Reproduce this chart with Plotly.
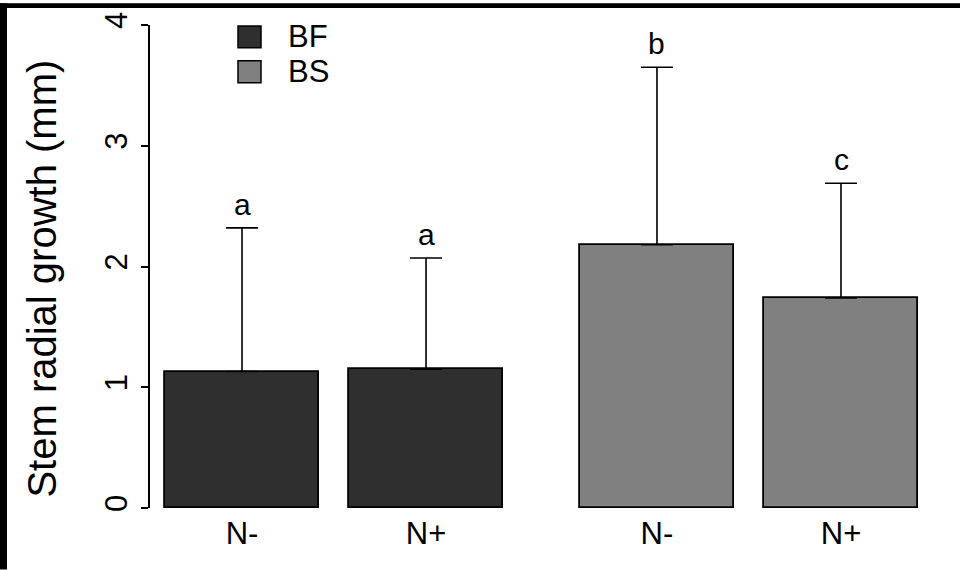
import plotly.graph_objects as go

# ---- data ----
categories = ["N-", "N+"]
series_names = ["BF", "BS"]
bf_means = [1.13, 1.15]
bs_means = [2.18, 1.74]
bf_err = [1.19, 0.92]
bs_err = [1.47, 0.95]
bf_letters = ["a", "a"]
bs_letters = ["b", "c"]
y_ticks = [0, 1, 2, 3, 4]

# ---- style ----
colors = {"BF": "#2f2f2f", "BS": "#808080"}
FONT = "Liberation Sans, Arial, sans-serif"
W, H = 960, 570
L, R, T, B = 150, 20, 22, 62
PW, PH = W - L - R, H - T - B
group_step = 2.255
bar_width = 0.837


def px(x):
    return (x - L) / PW


def py(y):
    return (H - B - y) / PH


series = [
    ("BF", bf_means, bf_err, bf_letters),
    ("BS", bs_means, bs_err, bs_letters),
]

fig = go.Figure()
annotations = []
all_pos = []
all_text = []
for g, (name, means, errs, letters) in enumerate(series):
    pos = [g * group_step + i for i in range(len(categories))]
    all_pos += pos
    all_text += categories
    fig.add_trace(go.Bar(
        x=pos, y=means, width=bar_width, name=name,
        marker=dict(color=colors[name], line=dict(color="black", width=1.8)),
        error_y=dict(type="data", symmetric=False, array=errs,
                     arrayminus=[0] * len(errs), color="black",
                     thickness=1.6, width=16),
        showlegend=False,
    ))
    for x, m, e, lt in zip(pos, means, errs, letters):
        annotations.append(dict(x=x, y=m + e, xref="x", yref="y", text=lt,
                                showarrow=False, yanchor="bottom", yshift=5,
                                font=dict(family=FONT, size=30, color="black")))

# manual legend (large squares like the original)
shapes = []
for i, name in enumerate(series_names):
    yc = 34 + 35 * i
    shapes.append(dict(type="rect", xref="paper", yref="paper",
                       x0=px(238), x1=px(261), y0=py(yc + 11), y1=py(yc - 11),
                       fillcolor=colors[name], line=dict(color="black", width=1.5)))
    annotations.append(dict(x=px(286), y=py(yc), xref="paper", yref="paper",
                            text=name, showarrow=False, xanchor="left", yanchor="middle",
                            font=dict(family=FONT, size=31, color="black")))

# y-axis title
annotations.append(dict(x=px(42), y=0.475, xref="paper", yref="paper",
                        text="Stem radial growth (mm)", textangle=-90, showarrow=False,
                        xanchor="center", yanchor="middle",
                        font=dict(family=FONT, size=40, color="black")))

# black frame strips (top and left) like the original image
shapes.append(dict(type="rect", xref="paper", yref="paper", x0=px(0), x1=px(W),
                   y0=py(5), y1=py(0), fillcolor="black", line=dict(width=0), layer="above"))
shapes.append(dict(type="rect", xref="paper", yref="paper", x0=px(0), x1=px(7),
                   y0=py(H), y1=py(0), fillcolor="black", line=dict(width=0), layer="above"))

fig.update_layout(
    width=W, height=H,
    margin=dict(l=L, r=R, t=T, b=B, pad=0),
    paper_bgcolor="white", plot_bgcolor="white",
    showlegend=False,
    annotations=annotations,
    shapes=shapes,
    xaxis=dict(range=[-0.5, 3.793], tickvals=all_pos, ticktext=all_text,
               showgrid=False, zeroline=False, showline=False, ticks="",
               tickfont=dict(family=FONT, size=31, color="black"),
               ticklabelstandoff=4),
    yaxis=dict(range=[0, 4], tickvals=y_ticks, showgrid=False, zeroline=False,
               showline=True, linecolor="black", linewidth=1.6,
               ticks="outside", ticklen=7, tickwidth=1.6, tickcolor="black",
               tickangle=-90, ticklabelstandoff=2,
               tickfont=dict(family=FONT, size=31, color="black")),
    bargap=0,
)

fig.write_html("out.html")
